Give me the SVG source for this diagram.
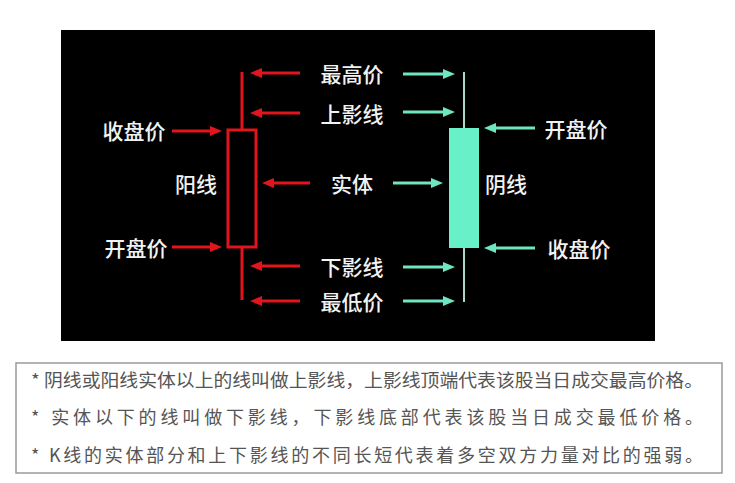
<svg xmlns="http://www.w3.org/2000/svg" width="735" height="483" viewBox="0 0 735 483">
<defs>
<style>
.lbl{font-family:"Noto Sans CJK SC","Noto Sans",sans-serif;font-size:21px;font-weight:500;fill:#f2f2f2;text-anchor:middle;dominant-baseline:central}
.note{font-family:"Noto Sans CJK SC","Noto Sans",sans-serif;font-size:18px;fill:#555;dominant-baseline:central}
.ra{stroke:#e2141c;stroke-width:3;fill:none}
.ga{stroke:#6fe6c2;stroke-width:3;fill:none}
</style>
<marker id="mr" markerUnits="userSpaceOnUse" markerWidth="12" markerHeight="10" refX="4" refY="5" orient="auto">
<path d="M0,0 L12,5 L0,10 z" fill="#e2141c"/>
</marker>
<marker id="mg" markerUnits="userSpaceOnUse" markerWidth="12" markerHeight="10" refX="4" refY="5" orient="auto">
<path d="M0,0 L12,5 L0,10 z" fill="#6fe6c2"/>
</marker>
</defs>
<rect width="735" height="483" fill="#ffffff"/>
<rect x="61" y="30" width="594" height="311" fill="#000000"/>

<g id="red-candle">
<line x1="242" y1="72" x2="242" y2="130" stroke="#e2141c" stroke-width="3"/>
<rect x="228" y="130" width="28" height="117" fill="#000" stroke="#e2141c" stroke-width="3"/>
<line x1="242" y1="247" x2="242" y2="300" stroke="#e2141c" stroke-width="3"/>
</g>
<g id="green-candle">
<line x1="464" y1="72" x2="464" y2="302" stroke="#a9d9c6" stroke-width="2"/>
<rect x="449" y="128" width="30" height="120" fill="#68f0c8"/>
</g>

<g id="connectors">
<line class="ra" x1="300" y1="73" x2="258" y2="73" marker-end="url(#mr)"/>
<line class="ra" x1="300" y1="113" x2="258" y2="113" marker-end="url(#mr)"/>
<line class="ra" x1="172" y1="131" x2="214" y2="131" marker-end="url(#mr)"/>
<line class="ra" x1="310" y1="183" x2="270" y2="183" marker-end="url(#mr)"/>
<line class="ra" x1="172" y1="247" x2="214" y2="247" marker-end="url(#mr)"/>
<line class="ra" x1="300" y1="266" x2="258" y2="266" marker-end="url(#mr)"/>
<line class="ra" x1="300" y1="301" x2="258" y2="301" marker-end="url(#mr)"/>
<line class="ga" x1="403" y1="74" x2="447" y2="74" marker-end="url(#mg)"/>
<line class="ga" x1="403" y1="112" x2="447" y2="112" marker-end="url(#mg)"/>
<line class="ga" x1="535" y1="128" x2="492" y2="128" marker-end="url(#mg)"/>
<line class="ga" x1="393" y1="183" x2="435" y2="183" marker-end="url(#mg)"/>
<line class="ga" x1="535" y1="248" x2="492" y2="248" marker-end="url(#mg)"/>
<line class="ga" x1="403" y1="267" x2="447" y2="267" marker-end="url(#mg)"/>
<line class="ga" x1="403" y1="301" x2="447" y2="301" marker-end="url(#mg)"/>
</g>

<g id="labels">
<text class="lbl" x="352" y="73">最高价</text>
<text class="lbl" x="352" y="113">上影线</text>
<text class="lbl" x="352" y="183">实体</text>
<text class="lbl" x="352" y="266">下影线</text>
<text class="lbl" x="352" y="301">最低价</text>
<text class="lbl" x="134" y="130">收盘价</text>
<text class="lbl" x="136" y="247">开盘价</text>
<text class="lbl" x="196" y="183">阳线</text>
<text class="lbl" x="506" y="183">阴线</text>
<text class="lbl" x="576" y="128">开盘价</text>
<text class="lbl" x="579" y="248">收盘价</text>
</g>

<g id="notes">
<rect x="16" y="363" width="706" height="110" fill="#fff" stroke="#9a9a9a" stroke-width="1.5"/>
<text class="note" x="31" y="379" textLength="672" lengthAdjust="spacingAndGlyphs">* 阴线或阳线实体以上的线叫做上影线，上影线顶端代表该股当日成交最高价格。</text>
<text class="note" x="31" y="416" textLength="672" lengthAdjust="spacing">* 实体以下的线叫做下影线，下影线底部代表该股当日成交最低价格。</text>
<text class="note" x="31" y="454" textLength="672" lengthAdjust="spacing">* K线的实体部分和上下影线的不同长短代表着多空双方力量对比的强弱。</text>
</g>
</svg>
